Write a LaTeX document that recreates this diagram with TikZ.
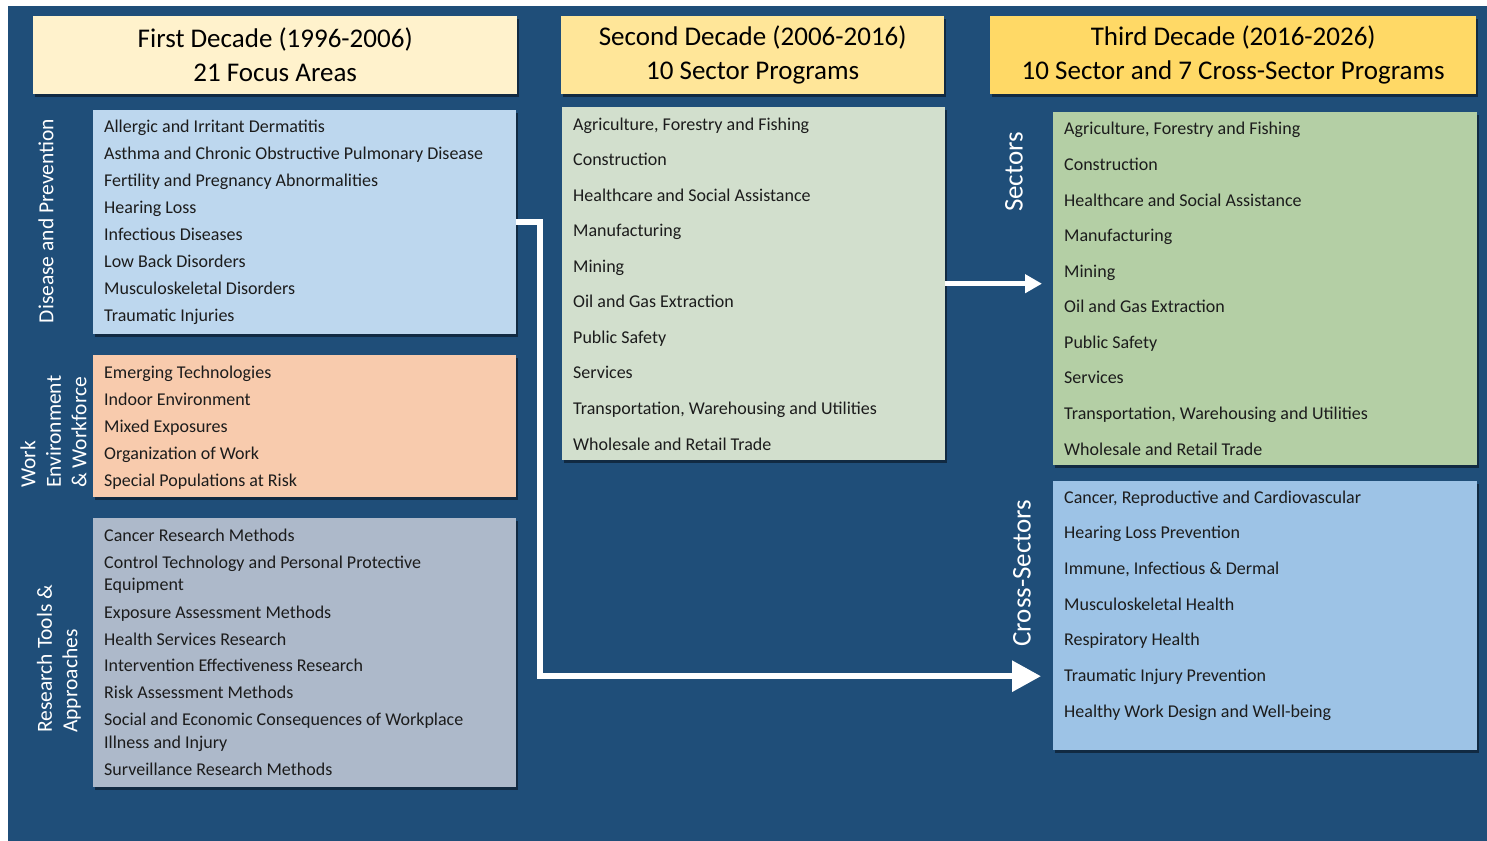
\documentclass[tikz,border=0pt]{standalone}
\usepackage{fontspec}
\setmainfont{Carlito}
\usetikzlibrary{arrows.meta,shadows}
\definecolor{bg}{HTML}{1F4E79}
\definecolor{hA}{HTML}{FFF2CC}
\definecolor{hB}{HTML}{FFE699}
\definecolor{hC}{HTML}{FFD966}
\definecolor{cDP}{HTML}{BDD7EE}
\definecolor{cWE}{HTML}{F8CBAD}
\definecolor{cRT}{HTML}{ADB9CA}
\definecolor{cSP}{HTML}{D2DFCD}
\definecolor{cSC}{HTML}{B4CFA5}
\definecolor{cCS}{HTML}{9DC3E6}
\definecolor{txt}{HTML}{1C1C1C}
\tikzset{
  box/.style={draw=none, inner sep=0pt, anchor=north west,
    drop shadow={shadow xshift=2pt, shadow yshift=-2.5pt, opacity=0.45, fill=black}},
  hdr/.style={box, align=center, text=black, font=\fontsize{27}{34}\selectfont},
  item/.style={inner sep=0pt, anchor=base west, text=txt, font=\fontsize{18}{22}\selectfont},
  side/.style={inner sep=0pt, text=white, rotate=90, align=left, font=\fontsize{21.5}{25.5}\selectfont},
  sidebig/.style={inner sep=0pt, text=white, rotate=90, font=\fontsize{27}{32}\selectfont},
  bigarrow/.style={draw=white, line width=6pt, -{Triangle[length=29pt,width=30pt]}},
  smallarrow/.style={draw=white, line width=5pt, -{Triangle[length=17pt,width=18pt]}}
}
\begin{document}
\begin{tikzpicture}[x=1pt,y=-1pt]
\useasboundingbox (0,0) rectangle (1487,840);
\fill[white] (-5,-5) rectangle (1495,850);
\fill[bg] (8,6) rectangle (1495,850);

% headers
\node[hdr, fill=hA, minimum width=484pt, minimum height=78pt] (h1) at (33,16) {First Decade (1996-2006)\\21 Focus Areas};
\node[hdr, fill=hB, minimum width=383pt, minimum height=78pt] (h2) at (561,16) {Second Decade (2006-2016)\\10 Sector Programs};
\node[hdr, fill=hC, minimum width=486pt, minimum height=78pt] (h3) at (990,16) {Third Decade (2016-2026)\\10 Sector and 7 Cross-Sector Programs};

% boxes
\node[box, fill=cDP, minimum width=423pt, minimum height=224pt] (dp) at (93,110) {};
\node[box, fill=cWE, minimum width=423pt, minimum height=142pt] (we) at (93,355) {};
\node[box, fill=cRT, minimum width=423pt, minimum height=269pt] (rt) at (93,518) {};
\node[box, fill=cSP, minimum width=383pt, minimum height=353pt] (sp) at (562,107) {};
\node[box, fill=cSC, minimum width=424pt, minimum height=353pt] (sc) at (1053,112) {};
\node[box, fill=cCS, minimum width=424pt, minimum height=269pt] (cs) at (1053,481) {};

% side labels
\node[side] (ldp) at (46,221) {Disease and Prevention};
\node[side, anchor=west] (lwe) at (53.5,488) {Work\\Environment\\\&\ Workforce};
\node[side, anchor=west] (lrt) at (59,733) {Research Tools \&\\Approaches};
\node[sidebig] (lsc) at (1014,172) {Sectors};
\node[sidebig] (lcs) at (1022,573) {Cross-Sectors};

% first decade items
\foreach \t [count=\i] in {Allergic and Irritant Dermatitis, Asthma and Chronic Obstructive Pulmonary Disease, Fertility and Pregnancy Abnormalities, Hearing Loss, Infectious Diseases, Low Back Disorders, Musculoskeletal Disorders, Traumatic Injuries}
  \node[item] (dp\i) at (104,{132+27*(\i-1)}) {\t};
\foreach \t [count=\i] in {Emerging Technologies, Indoor Environment, Mixed Exposures, Organization of Work, Special Populations at Risk}
  \node[item] (we\i) at (104,{378+27*(\i-1)}) {\t};
\foreach \t/\y [count=\i] in {Cancer Research Methods/541, Control Technology and Personal Protective/568, Equipment/590, Exposure Assessment Methods/618, Health Services Research/645, Intervention Effectiveness Research/671, Risk Assessment Methods/698, Social and Economic Consequences of Workplace/725, Illness and Injury/748, Surveillance Research Methods/775}
  \node[item] (rt\i) at (104,\y) {\t};

% second decade items
\foreach \t [count=\i] in {{Agriculture, Forestry and Fishing}, Construction, Healthcare and Social Assistance, Manufacturing, Mining, Oil and Gas Extraction, Public Safety, Services, {Transportation, Warehousing and Utilities}, Wholesale and Retail Trade}
  \node[item] (sp\i) at (573,{130+35.56*(\i-1)}) {\t};

% third decade items
\foreach \t [count=\i] in {{Agriculture, Forestry and Fishing}, Construction, Healthcare and Social Assistance, Manufacturing, Mining, Oil and Gas Extraction, Public Safety, Services, {Transportation, Warehousing and Utilities}, Wholesale and Retail Trade}
  \node[item] (sc\i) at (1064,{135+35.56*(\i-1)}) {\t};
\foreach \t [count=\i] in {{Cancer, Reproductive and Cardiovascular}, Hearing Loss Prevention, {Immune, Infectious \& Dermal}, Musculoskeletal Health, Respiratory Health, Traumatic Injury Prevention, Healthy Work Design and Well-being}
  \node[item] (cs\i) at (1064,{503+35.67*(\i-1)}) {\t};

% arrows
\draw[bigarrow, shorten >=12pt] (dp.east) -- ++(24,0) |- ([yshift=-60.5pt]cs.west);
\draw[smallarrow, shorten >=11pt] (sp.east) -- (sp.east -| sc.west);
\end{tikzpicture}
\end{document}
